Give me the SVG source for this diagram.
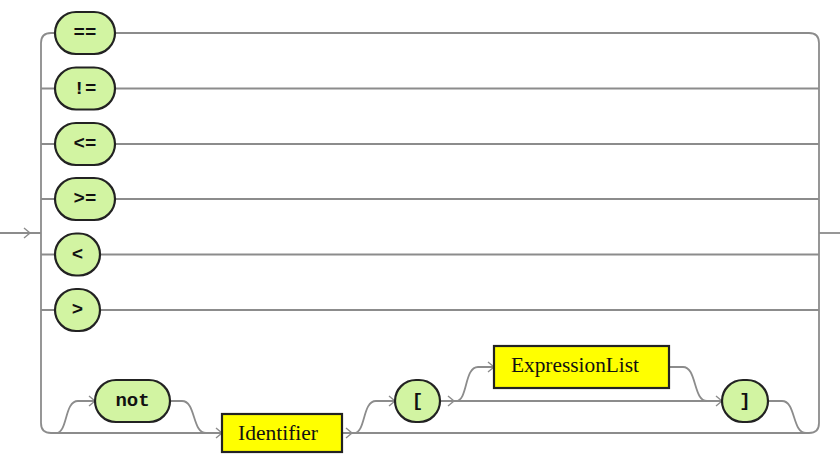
<svg xmlns="http://www.w3.org/2000/svg" width="840" height="455" viewBox="0 0 840 455">
<style>
.line{fill:none;stroke:#8c8c8c;stroke-width:1.8}
.arr{fill:none;stroke:#8c8c8c;stroke-width:1.4}
.term{fill:#D2F4A2;stroke:#222;stroke-width:2.2}
.nt{fill:#FFFF00;stroke:#222;stroke-width:2.2}
.tt{font-family:"Liberation Mono","DejaVu Sans Mono",monospace;font-weight:bold;font-size:19px;fill:#111;text-anchor:middle;dominant-baseline:central}
.nx{font-family:"Liberation Serif","DejaVu Serif",serif;font-size:20px;fill:#111;text-anchor:middle;dominant-baseline:central}
</style>
<rect width="840" height="455" fill="#fff"/>
<g id="connectors">
<path class="line" d="M0 233 H41"/>
<path class="line" d="M55 33 H51 Q41 33 41 43 V423 Q41 433 51 433 H222"/>
<path class="line" d="M41 88.5 H55 M41 144 H55 M41 199 H55 M41 254.5 H55 M41 310 H55"/>
<path class="line" d="M115 33 H809 Q819 33 819 43 V423 Q819 433 809 433 H342"/>
<path class="line" d="M115 88.5 H819 M115 144 H819 M115 199 H819 M100 254.5 H819 M100 310 H819"/>
<path class="line" d="M819 233 H840"/>
<path class="line" d="M56 433 C68 433 64 401 78 401 H95"/>
<path class="line" d="M170 401 H182 C196 401 192 433 206 433"/>
<path class="line" d="M354 433 C366 433 362 401 376 401 H395"/>
<path class="line" d="M440 401 H722"/>
<path class="line" d="M456 401 C468 401 464 367 478 367 H494"/>
<path class="line" d="M669 367 H683 C697 367 693 401 707 401"/>
<path class="line" d="M768 401 H782 C796 401 792 433 806 433"/>
<path class="arr" d="M24 228 L30 233 L24 238"/>
<path class="arr" d="M216 428 L222 433 L216 438"/>
<path class="arr" d="M346 428 L352 433 L346 438"/>
<path class="arr" d="M89 396 L95 401 L89 406"/>
<path class="arr" d="M389 396 L395 401 L389 406"/>
<path class="arr" d="M448 396 L454 401 L448 406"/>
<path class="arr" d="M488 362 L494 367 L488 372"/>
<path class="arr" d="M716 396 L722 401 L716 406"/>
</g>
<g id="n-eq"><rect class="term" x="55" y="12" width="60" height="42" rx="21"/><text class="tt" x="85" y="33">==</text></g>
<g id="n-ne"><rect class="term" x="55" y="67.5" width="60" height="42" rx="21"/><text class="tt" x="85" y="88.5">!=</text></g>
<g id="n-le"><rect class="term" x="55" y="123" width="60" height="42" rx="21"/><text class="tt" x="85" y="144">&lt;=</text></g>
<g id="n-ge"><rect class="term" x="55" y="178" width="60" height="42" rx="21"/><text class="tt" x="85" y="199">&gt;=</text></g>
<g id="n-lt"><rect class="term" x="55" y="233.5" width="45" height="42" rx="21"/><text class="tt" x="77.5" y="254.5">&lt;</text></g>
<g id="n-gt"><rect class="term" x="55" y="289" width="45" height="42" rx="21"/><text class="tt" x="77.5" y="310">&gt;</text></g>
<g id="n-not"><rect class="term" x="95" y="380" width="75" height="42" rx="21"/><text class="tt" x="132.5" y="401">not</text></g>
<g id="n-identifier"><rect class="nt" x="222" y="414" width="120" height="38"/><text class="nx" x="278" y="433" textLength="80" lengthAdjust="spacingAndGlyphs">Identifier</text></g>
<g id="n-lbracket"><rect class="term" x="395" y="380" width="45" height="42" rx="21"/><text class="tt" x="417.5" y="401">[</text></g>
<g id="n-exprlist"><rect class="nt" x="494" y="346" width="175" height="42"/><text class="nx" x="575" y="365" textLength="128" lengthAdjust="spacingAndGlyphs">ExpressionList</text></g>
<g id="n-rbracket"><rect class="term" x="722" y="380" width="46" height="42" rx="21"/><text class="tt" x="745" y="401">]</text></g>
</svg>
